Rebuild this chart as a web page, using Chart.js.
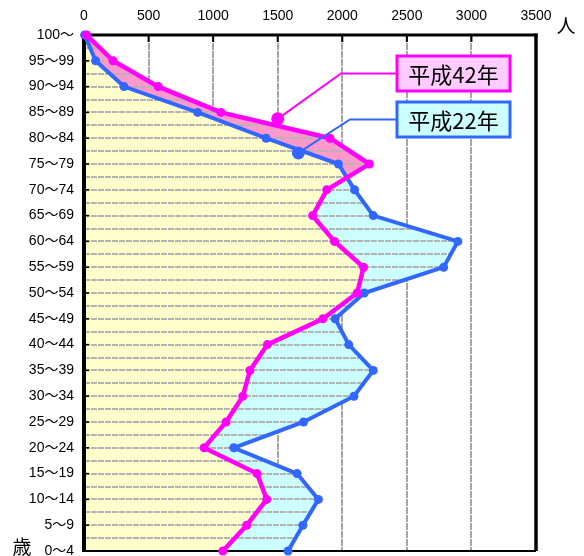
<!DOCTYPE html>
<html>
<head>
<meta charset="utf-8">
<script src="https://cdn.jsdelivr.net/npm/chart.js@4.4.1/dist/chart.umd.min.js"></script>
<style>
  html, body { margin: 0; padding: 0; background: #ffffff; }
  #wrap { position: relative; width: 584px; height: 556px; }
</style>
</head>
<body>
<div id="wrap"><canvas id="chart" width="584" height="556"></canvas></div>
<script>
// Age groups, youngest first (drawn bottom to top)
const ageGroups = ['0〜4', '5〜9', '10〜14', '15〜19', '20〜24', '25〜29', '30〜34', '35〜39',
  '40〜44', '45〜49', '50〜54', '55〜59', '60〜64', '65〜69', '70〜74', '75〜79',
  '80〜84', '85〜89', '90〜94', '95〜99', '100〜'];

// Population (persons) per age group
const pop2010 = [1580, 1695, 1815, 1650, 1160, 1700, 2090, 2240, 2050, 1945, 2170,
  2785, 2895, 2240, 2095, 1970, 1410, 880, 310, 90, 5];
const pop2030 = [1075, 1260, 1415, 1340, 930, 1100, 1230, 1285, 1420, 1850, 2115,
  2165, 1940, 1770, 1880, 2210, 1905, 1060, 575, 225, 20];

const seriesNames = ['平成42年', '平成22年'];
const xTickValues = [0, 500, 1000, 1500, 2000, 2500, 3000, 3500];
const unitX = '人';
const unitY = '歳';

// Callout anchors (value on x, fractional age-group index on y)
const calloutAnchors = [
  { x: 1500, y: 16.75 },
  { x: 1660, y: 15.43 }
];

const COLORS = {
  magenta: '#FF00FF',
  blue: '#3366FF',
  pink: '#FF99CC',
  cyan: '#CCFFFF',
  yellow: '#FFFFCC',
  stripe: '#B4B4B4',
  grid: '#A6A6A6'
};

const labelFont = { family: '"Liberation Sans", "Noto Sans CJK JP", sans-serif', size: 14 };

// Area under both curves (yellow), then horizontal stripes across every filled area,
// then the black frame with inner tick marks.
const areaPlugin = {
  id: 'areaPlugin',
  beforeDatasetsDraw(chart) {
    const ctx = chart.ctx;
    const xs = chart.scales.x, ys = chart.scales.y;
    const x0 = xs.getPixelForValue(0);
    const a = chart.chartArea;
    const tracePolygon = (idx) => {
      const pts = chart.getDatasetMeta(idx).data;
      ctx.moveTo(x0, pts[0].y);
      pts.forEach(p => ctx.lineTo(p.x, p.y));
      ctx.lineTo(x0, pts[pts.length - 1].y);
      ctx.closePath();
    };

    // common part of both areas
    ctx.save();
    ctx.beginPath(); ctx.rect(a.left, a.top, a.right - a.left, a.bottom - a.top); ctx.clip();
    ctx.beginPath(); tracePolygon(1); ctx.clip();
    ctx.beginPath(); tracePolygon(0);
    ctx.fillStyle = COLORS.yellow;
    ctx.fill();
    ctx.restore();

    // stripes inside the union of both areas
    ctx.save();
    ctx.beginPath(); tracePolygon(0); tracePolygon(1); ctx.clip('nonzero');
    ctx.strokeStyle = COLORS.stripe;
    ctx.lineWidth = 2;
    ctx.setLineDash([6, 1]);
    for (let i = 0; i < ageGroups.length; i++) {
      for (const h of [0, 0.5]) {
        const y = Math.round(ys.getPixelForValue(i + h));
        ctx.beginPath();
        ctx.moveTo(a.left, y);
        ctx.lineTo(a.right, y);
        ctx.stroke();
      }
    }
    ctx.restore();

    // frame
    ctx.save();
    ctx.strokeStyle = '#000';
    ctx.lineWidth = 3;
    ctx.beginPath(); ctx.moveTo(a.left, a.top); ctx.lineTo(a.right + 1.5, a.top); ctx.stroke();
    ctx.lineWidth = 3.5;
    ctx.beginPath(); ctx.moveTo(a.right, a.top - 1.5); ctx.lineTo(a.right, a.bottom); ctx.stroke();
    ctx.lineWidth = 2;
    ctx.beginPath(); ctx.moveTo(a.left, a.bottom); ctx.lineTo(a.right, a.bottom); ctx.stroke();
    ctx.lineWidth = 4;
    ctx.beginPath(); ctx.moveTo(a.left, a.top - 1.5); ctx.lineTo(a.left, a.bottom + 1); ctx.stroke();
    // inner tick marks
    ctx.lineWidth = 2;
    xTickValues.forEach(v => {
      const x = xs.getPixelForValue(v);
      ctx.beginPath(); ctx.moveTo(x, a.top); ctx.lineTo(x, a.top + 7); ctx.stroke();
    });
    ctx.lineWidth = 1.5;
    for (let i = 0; i < ageGroups.length; i++) {
      const y = ys.getPixelForValue(i);
      ctx.beginPath(); ctx.moveTo(a.left, y); ctx.lineTo(a.left + 5, y); ctx.stroke();
    }
    ctx.restore();
  }
};

// Series callouts with leader lines, plus axis unit labels
const calloutPlugin = {
  id: 'calloutPlugin',
  afterDatasetsDraw(chart) {
    const ctx = chart.ctx;
    const xs = chart.scales.x, ys = chart.scales.y;
    const boxes = [
      { text: seriesNames[0], stroke: COLORS.magenta, fill: '#FFCCFF', top: 56, elbowX: 341 },
      { text: seriesNames[1], stroke: COLORS.blue, fill: COLORS.cyan, top: 102, elbowX: 350 }
    ];
    const boxLeft = 397, boxW = 113, boxH = 35;
    boxes.forEach((b, i) => {
      const ax = xs.getPixelForValue(calloutAnchors[i].x);
      const ay = ys.getPixelForValue(calloutAnchors[i].y);
      const midY = b.top + boxH / 2;
      ctx.save();
      ctx.strokeStyle = b.stroke;
      ctx.lineWidth = 2;
      ctx.beginPath();
      ctx.moveTo(ax, ay);
      ctx.lineTo(b.elbowX, midY);
      ctx.lineTo(boxLeft, midY);
      ctx.stroke();
      ctx.fillStyle = b.stroke;
      ctx.beginPath(); ctx.arc(ax, ay, 6.5, 0, Math.PI * 2); ctx.fill();
      ctx.fillStyle = b.fill;
      ctx.fillRect(boxLeft, b.top, boxW, boxH);
      ctx.lineWidth = 3;
      ctx.strokeRect(boxLeft, b.top, boxW, boxH);
      ctx.fillStyle = '#000';
      ctx.font = '22px "Noto Sans CJK JP", sans-serif';
      ctx.textBaseline = 'middle';
      ctx.textAlign = 'center';
      ctx.fillText(b.text, boxLeft + boxW / 2, midY + 1);
      ctx.restore();
    });
    ctx.save();
    ctx.fillStyle = '#000';
    ctx.font = '19px "Noto Sans CJK JP", sans-serif';
    ctx.textAlign = 'center';
    ctx.textBaseline = 'middle';
    ctx.fillText(unitX, 566, 26);
    ctx.fillText(unitY, 22, 547);
    ctx.restore();
  }
};

const pointStyle = (color) => ({
  borderColor: color,
  pointBackgroundColor: color,
  pointBorderColor: color,
  pointBorderWidth: 0,
  pointRadius: 4.5,
  borderWidth: 4,
  tension: 0
});

new Chart(document.getElementById('chart'), {
  type: 'line',
  data: {
    labels: ageGroups,
    datasets: [
      Object.assign({ label: seriesNames[0], data: pop2030, backgroundColor: COLORS.pink, fill: 'origin', order: 0 }, pointStyle(COLORS.magenta), { borderWidth: 4.5 }),
      Object.assign({ label: seriesNames[1], data: pop2010, backgroundColor: COLORS.cyan, fill: 'origin', order: 1 }, pointStyle(COLORS.blue))
    ]
  },
  options: {
    indexAxis: 'y',
    responsive: false,
    animation: false,
    clip: false,
    layout: { padding: { left: 0, right: 48, top: 0, bottom: 5 } },
    plugins: {
      legend: { display: false },
      tooltip: { enabled: false },
      filler: { drawTime: 'beforeDatasetsDraw' }
    },
    scales: {
      x: {
        type: 'linear',
        position: 'top',
        min: 0,
        max: 3500,
        afterBuildTicks(scale) { scale.ticks = xTickValues.map(v => ({ value: v })); },
        afterFit(scale) { scale.height = 35; },
        ticks: { color: '#000', font: labelFont, padding: 10, maxRotation: 0, callback: v => String(v) },
        grid: { color: COLORS.grid, lineWidth: 2, drawTicks: false },
        border: { display: false, dash: [7, 1] }
      },
      y: {
        type: 'category',
        reverse: true,
        offset: false,
        afterFit(scale) {
          scale.width = 84;
          scale.paddingTop = 0;
          scale.paddingBottom = 0;
        },
        ticks: { color: '#000', font: labelFont, padding: 10, autoSkip: false },
        grid: { display: false, drawTicks: false },
        border: { display: false }
      }
    }
  },
  plugins: [areaPlugin, calloutPlugin]
});
</script>
</body>
</html>
